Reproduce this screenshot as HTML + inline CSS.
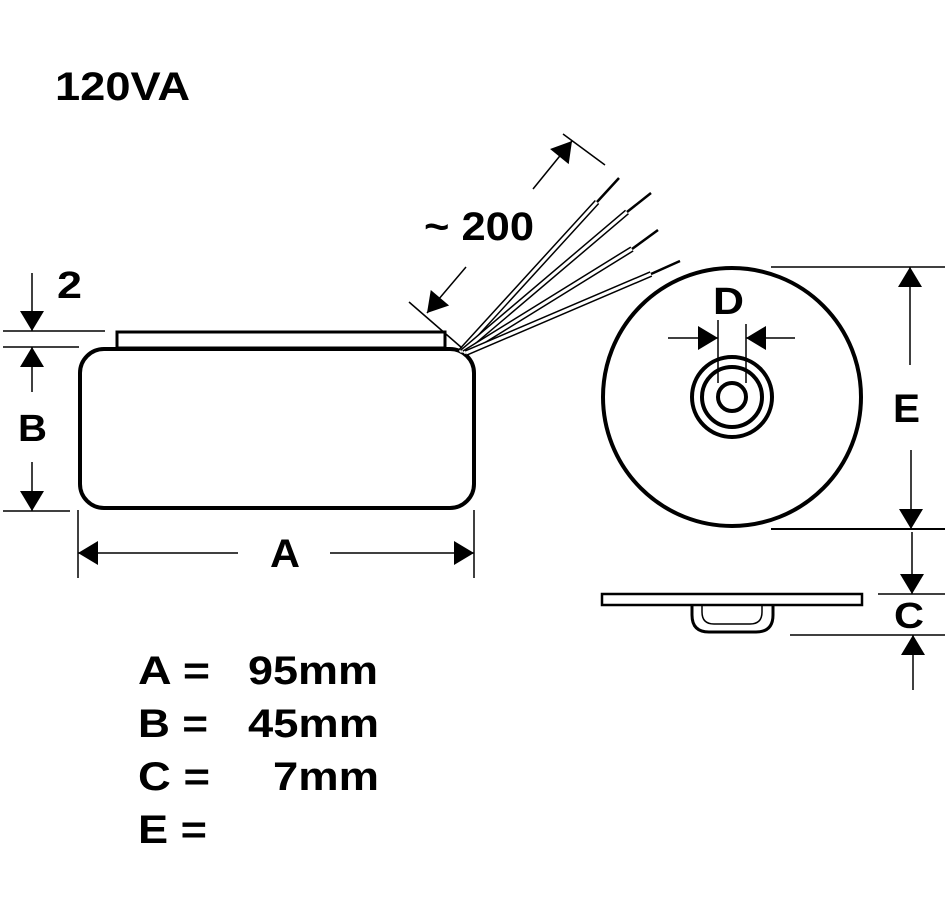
<!DOCTYPE html>
<html><head><style>
body{margin:0;background:#fff;width:945px;height:897px;overflow:hidden}
svg{display:block}
text{font-family:"Liberation Sans",Arial,sans-serif;font-weight:bold;fill:#000}
</style></head><body>
<svg width="945" height="897" viewBox="0 0 945 897">
<defs>
<marker id="ah" viewBox="0 0 10 10" refX="10" refY="5" markerWidth="10" markerHeight="10" markerUnits="userSpaceOnUse" orient="auto" overflow="visible">
<path d="M-20,-7 L0,5 L-20,17 Z" fill="#000" transform="translate(10,0)"/>
</marker>
</defs>
<text x="55" y="100" font-size="40" textLength="135" lengthAdjust="spacingAndGlyphs">120VA</text>
<rect x="117" y="332" width="328" height="16" fill="#fff" stroke="#000" stroke-width="3"/>
<rect x="80" y="349" width="394" height="159" rx="24" fill="#fff" stroke="#000" stroke-width="4"/>
<g stroke-linecap="butt">
<line x1="460" y1="352" x2="597" y2="202" stroke="#000" stroke-width="6"/><line x1="460" y1="352" x2="597" y2="202" stroke="#fff" stroke-width="3"/><line x1="597" y1="202" x2="619" y2="178" stroke="#000" stroke-width="2.5"/>
<line x1="462" y1="352" x2="627" y2="212" stroke="#000" stroke-width="6"/><line x1="462" y1="352" x2="627" y2="212" stroke="#fff" stroke-width="3"/><line x1="627" y1="212" x2="651" y2="193" stroke="#000" stroke-width="2.5"/>
<line x1="464" y1="353" x2="632" y2="249" stroke="#000" stroke-width="6"/><line x1="464" y1="353" x2="632" y2="249" stroke="#fff" stroke-width="3"/><line x1="632" y1="249" x2="658" y2="230" stroke="#000" stroke-width="2.5"/>
<line x1="466" y1="353" x2="651" y2="274" stroke="#000" stroke-width="6"/><line x1="466" y1="353" x2="651" y2="274" stroke="#fff" stroke-width="3"/><line x1="651" y1="274" x2="680" y2="261" stroke="#000" stroke-width="2.5"/>
</g>
<g stroke="#000" stroke-width="1.5" fill="none">
<line x1="409" y1="302" x2="462" y2="348"/>
<line x1="563" y1="134" x2="605" y2="165"/>
<line x1="533" y1="189" x2="572" y2="141" marker-end="url(#ah)"/>
<line x1="466" y1="267" x2="427" y2="313" marker-end="url(#ah)"/>
<line x1="3" y1="331" x2="105" y2="331"/>
<line x1="3" y1="347" x2="79" y2="347"/>
<line x1="3" y1="511" x2="70" y2="511"/>
<line x1="32" y1="273" x2="32" y2="331" marker-end="url(#ah)"/>
<line x1="32" y1="392" x2="32" y2="347" marker-end="url(#ah)"/>
<line x1="32" y1="462" x2="32" y2="511" marker-end="url(#ah)"/>
<line x1="78" y1="510" x2="78" y2="578"/>
<line x1="474" y1="510" x2="474" y2="578"/>
<line x1="238" y1="553" x2="78" y2="553" marker-end="url(#ah)"/>
<line x1="330" y1="553" x2="474" y2="553" marker-end="url(#ah)"/>
<line x1="718" y1="320" x2="718" y2="383"/>
<line x1="746" y1="324" x2="746" y2="383"/>
<line x1="668" y1="338" x2="718" y2="338" marker-end="url(#ah)"/>
<line x1="795" y1="338" x2="746" y2="338" marker-end="url(#ah)"/>
<line x1="771" y1="267" x2="945" y2="267"/>
<line x1="771" y1="529" x2="945" y2="529" stroke-width="2"/>
<line x1="910" y1="365" x2="910" y2="267" marker-end="url(#ah)"/>
<line x1="911" y1="450" x2="911" y2="529" marker-end="url(#ah)"/>
<line x1="878" y1="594" x2="945" y2="594"/>
<line x1="790" y1="635" x2="945" y2="635"/>
<line x1="912" y1="532" x2="912" y2="594" marker-end="url(#ah)"/>
<line x1="913" y1="690" x2="913" y2="635" marker-end="url(#ah)"/>
</g>
<circle cx="732" cy="397" r="129" fill="none" stroke="#000" stroke-width="4"/>
<circle cx="732" cy="397" r="40" fill="none" stroke="#000" stroke-width="4"/>
<circle cx="732" cy="397" r="30" fill="none" stroke="#000" stroke-width="4"/>
<circle cx="732" cy="397" r="14" fill="none" stroke="#000" stroke-width="4"/>
<path d="M692,604 L692,615 Q692,632 709,632 L756,632 Q773,632 773,615 L773,604" fill="#fff" stroke="#000" stroke-width="3"/>
<path d="M702,605 L702,612 Q702,624 714,624 L750,624 Q762,624 762,612 L762,605" fill="none" stroke="#000" stroke-width="1.5"/>
<rect x="602" y="594" width="260" height="11" fill="#fff" stroke="#000" stroke-width="2.5"/>
<text x="424" y="240" font-size="40" textLength="110" lengthAdjust="spacingAndGlyphs">~ 200</text>
<text x="57" y="298" font-size="38" textLength="25" lengthAdjust="spacingAndGlyphs">2</text>
<text x="18" y="441" font-size="38" textLength="29" lengthAdjust="spacingAndGlyphs">B</text>
<text x="270" y="567" font-size="40" textLength="30" lengthAdjust="spacingAndGlyphs">A</text>
<text x="713" y="314" font-size="38" textLength="31" lengthAdjust="spacingAndGlyphs">D</text>
<text x="893" y="422" font-size="40" textLength="27" lengthAdjust="spacingAndGlyphs">E</text>
<text x="894" y="628" font-size="36" textLength="30" lengthAdjust="spacingAndGlyphs">C</text>
<text x="138" y="684" font-size="40" textLength="72" lengthAdjust="spacingAndGlyphs">A =</text><text x="248" y="684" font-size="40" textLength="130" lengthAdjust="spacingAndGlyphs">95mm</text>
<text x="138" y="737" font-size="40" textLength="70" lengthAdjust="spacingAndGlyphs">B =</text><text x="248" y="737" font-size="40" textLength="131" lengthAdjust="spacingAndGlyphs">45mm</text>
<text x="138" y="790" font-size="40" textLength="72" lengthAdjust="spacingAndGlyphs">C =</text><text x="273" y="790" font-size="40" textLength="106" lengthAdjust="spacingAndGlyphs">7mm</text>
<text x="138" y="843" font-size="40" textLength="69" lengthAdjust="spacingAndGlyphs">E =</text>
</svg>
</body></html>
